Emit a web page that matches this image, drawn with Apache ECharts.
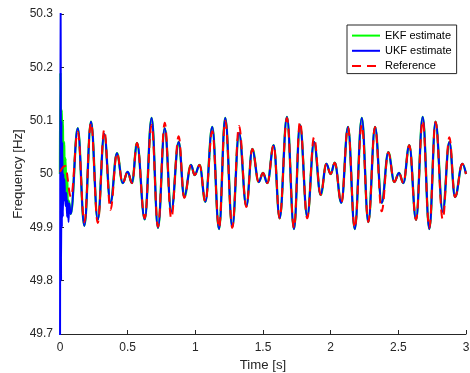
<!DOCTYPE html>
<html>
<head>
<meta charset="utf-8">
<script src="https://cdn.jsdelivr.net/npm/echarts@6/dist/echarts.min.js"></script>
<style>html,body{margin:0;padding:0;background:#fff;}#c{width:470px;height:373px;}</style>
</head>
<body>
<div id="c"></div>
<script>
// Reference signal: extrema (time [s], frequency [Hz])
const refTime = [0.000,0.037,0.081,0.131,0.180,0.229,0.279,0.327,0.373,0.421,0.463,0.500,0.532,0.569,0.626,0.677,0.724,0.774,0.822,0.877,0.918,0.968,0.995,1.032,1.074,1.125,1.175,1.221,1.273,1.323,1.377,1.421,1.468,1.500,1.532,1.579,1.623,1.677,1.729,1.773,1.827,1.877,1.926,1.968,2.000,2.030,2.079,2.128,2.178,2.230,2.278,2.328,2.377,2.426,2.470,2.505,2.537,2.581,2.631,2.680,2.729,2.775,2.828,2.877,2.919,2.973,3.000];
const refFreq = [50.004,50.015,49.957,50.079,49.910,50.096,49.908,50.083,49.933,50.039,49.983,50.004,49.983,50.058,49.917,50.092,49.901,50.096,49.917,50.071,49.955,50.017,49.998,50.017,49.948,50.080,49.899,50.100,49.899,50.090,49.938,50.047,49.985,50.002,49.983,50.054,49.917,50.105,49.899,50.098,49.917,50.069,49.961,50.019,50.000,50.021,49.946,50.088,49.899,50.092,49.910,50.088,49.930,50.041,49.985,50.002,49.983,50.054,49.914,50.100,49.899,50.098,49.915,50.069,49.957,50.019,50.000];

// UKF estimate: start-up transient, then tracked extrema (same times as refTime, null = transient part)
const ukfStartTime = [0.000,0.004,0.008,0.011,0.014,0.017,0.021,0.025,0.029,0.033,0.037,0.042,0.047,0.052,0.057,0.063,0.068,0.079];
const ukfStartFreq = [49.55,50.45,49.80,50.10,49.90,50.06,49.92,50.00,49.95,49.99,49.96,49.94,49.965,49.92,49.95,49.91,49.945,49.925];
const ukfFreq = [null,null,null,50.086,49.903,50.098,49.914,50.075,49.946,50.039,49.983,50.004,49.983,50.058,49.915,50.105,49.899,50.086,49.929,50.060,49.957,50.017,49.998,50.017,49.948,50.088,49.897,50.105,49.901,50.077,49.940,50.047,49.985,50.002,49.983,50.054,49.917,50.107,49.897,50.092,49.920,50.060,49.961,50.019,50.000,50.021,49.946,50.088,49.897,50.105,49.910,50.088,49.946,50.041,49.985,50.002,49.983,50.054,49.914,50.107,49.897,50.098,49.929,50.060,49.957,50.019,50.000];

// EKF estimate: own start-up transient, afterwards it follows the UKF extrema
const ekfStartTime = [0.000,0.003,0.008,0.012,0.016,0.020,0.025,0.030,0.035,0.040,0.046,0.052,0.058,0.065,0.079];
const ekfStartFreq = [50.00,50.19,50.05,50.12,50.02,50.10,49.99,50.06,49.97,50.03,49.96,50.00,49.93,49.95,49.925];

const xTicks = [0, 0.5, 1, 1.5, 2, 2.5, 3];
const yTicks = [49.7, 49.8, 49.9, 50, 50.1, 50.2, 50.3];

const refData = refTime.map((t, i) => [t, refFreq[i]]);
const trackData = refTime.map((t, i) => [t, ukfFreq[i]]).filter(p => p[1] !== null);
const ukfData = ukfStartTime.map((t, i) => [t, ukfStartFreq[i]]).concat(trackData);
const ekfData = ekfStartTime.map((t, i) => [t, ekfStartFreq[i]]).concat(trackData);

const FONT = '"Liberation Sans", Arial, Helvetica, sans-serif';
const AX = '#262626';
const chart = echarts.init(document.getElementById('c'), null, {renderer: 'canvas'});
chart.setOption({
  animation: false,
  backgroundColor: '#fff',
  grid: {left: 60, right: 4, top: 14, height: 320, containLabel: false, outerBoundsMode: 'none'},
  legend: {
    orient: 'vertical', left: 347, top: 25,
    padding: [5, 5, 2, 4], itemGap: 4, itemWidth: 28, itemHeight: 14,
    backgroundColor: '#fff', borderColor: AX, borderWidth: 1, borderRadius: 0,
    itemStyle: {opacity: 0},
    textStyle: {fontFamily: FONT, fontSize: 11, color: '#000'},
    data: ['EKF estimate', 'UKF estimate', 'Reference']
  },
  xAxis: {
    type: 'value', min: xTicks[0], max: xTicks[xTicks.length - 1], interval: 0.5,
    name: 'Time [s]', nameLocation: 'middle', nameGap: 25, nameMoveOverlap: false,
    nameTextStyle: {fontFamily: FONT, fontSize: 13.2, color: AX},
    axisLine: {show: true, lineStyle: {color: AX, width: 1}},
    axisTick: {show: true, inside: true, length: 4, lineStyle: {color: AX}},
    axisLabel: {fontFamily: FONT, fontSize: 12, color: AX, margin: 8,
      formatter: v => String(+v.toFixed(1))},
    splitLine: {show: false}
  },
  yAxis: {
    type: 'value', min: yTicks[0], max: yTicks[yTicks.length - 1], interval: 0.1,
    name: 'Frequency [Hz]', nameLocation: 'middle', nameGap: 35, nameMoveOverlap: false,
    nameTextStyle: {fontFamily: FONT, fontSize: 13.2, color: AX},
    axisLine: {show: true, lineStyle: {color: AX, width: 1}},
    axisTick: {show: true, inside: true, length: 4, lineStyle: {color: AX}},
    axisLabel: {fontFamily: FONT, fontSize: 12, color: AX, margin: 7,
      formatter: v => String(+v.toFixed(1))},
    splitLine: {show: false}
  },
  series: [
    {name: 'EKF estimate', type: 'line', data: ekfData, showSymbol: false, symbol: 'none',
     smooth: 0.4, smoothMonotone: 'x', clip: true,
     lineStyle: {color: '#00ff00', width: 2.4}, itemStyle: {color: '#00ff00'}, z: 2},
    {name: 'UKF estimate', type: 'line', data: ukfData, showSymbol: false, symbol: 'none',
     smooth: 0.4, smoothMonotone: 'x', clip: true,
     lineStyle: {color: '#0000ff', width: 2}, itemStyle: {color: '#0000ff'}, z: 3},
    {name: 'Reference', type: 'line', data: refData, showSymbol: false, symbol: 'none',
     smooth: 0.4, smoothMonotone: 'x', clip: true,
     lineStyle: {color: '#ff0000', width: 2, type: [9, 6]}, itemStyle: {color: '#ff0000'}, z: 4}
  ]
});
</script>
</body>
</html>
